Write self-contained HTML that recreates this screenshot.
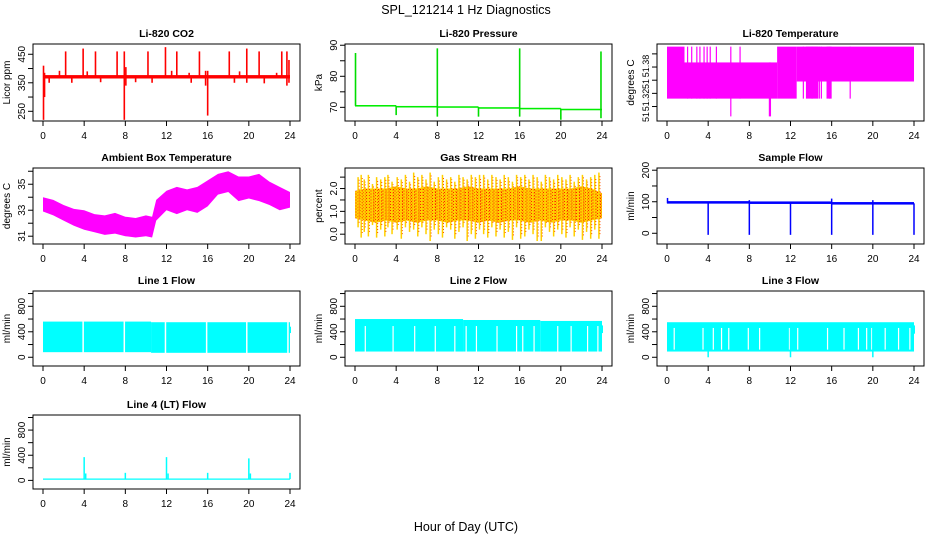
<!DOCTYPE html>
<html><head><meta charset="utf-8"><style>
html,body{margin:0;padding:0;background:#fff;}
svg text{font-family:"Liberation Sans",sans-serif;}
</style></head><body>
<svg id="chart" width="936" height="540" xmlns="http://www.w3.org/2000/svg">
<defs>
<pattern id="rhpat" width="3" height="3" patternUnits="userSpaceOnUse">
<rect width="3" height="3" fill="#ffd000"/><rect x="0" y="0" width="1" height="1" fill="#ff2000"/><rect x="1.5" y="1.5" width="1" height="1" fill="#ff2000"/>
</pattern>
</defs>
<text x="466" y="14" text-anchor="middle" font-size="12.5">SPL_121214  1 Hz Diagnostics</text>
<text x="466" y="531" text-anchor="middle" font-size="12.5">Hour of Day (UTC)</text>
</svg>
<script>
// ---- data ----
const xTicks=[0,4,8,12,16,20,24];
const co2Base=[[0,24,365,377]];
const co2Spikes=[[0.05,220,410],[0.15,300,385],[1.6,365,392],[2.2,365,460],[3.9,365,470],[4.3,365,390],[5.1,365,460],[0.6,350,372],[2.8,350,372],[5.6,352,372],[7.2,365,460],[7.9,220,460],[8.05,340,405],[9.0,352,372],[10.2,365,460],[10.6,350,372],[11.9,365,475],[12.5,365,392],[13.0,365,460],[14.2,365,385],[14.4,350,372],[15.2,365,460],[15.8,340,392],[16.0,235,392],[18.1,365,460],[18.6,350,372],[19.1,365,390],[19.8,350,470],[21.0,365,460],[21.5,348,372],[22.7,365,385],[23.2,365,460],[23.7,340,460],[23.9,350,430]];
const presLevels=[[0,4,70.5],[4,8,70.2],[8,12,70.1],[12,16,69.8],[16,20,69.6],[20,24,69.3]];
const presSpikes=[[0.05,70.5,87.5],[4,67.5,70.5],[8,67,89],[12,67,70.1],[16,67,89],[20,66,69.6],[23.9,66.5,88]];
const tempSegs=[[0,1.7,51.312,51.391],[1.7,10.7,51.312,51.367],[10.7,12.6,51.312,51.391],[12.6,24,51.338,51.391]];
const tempSpikes=[[2.0,51.312,51.391],[2.4,51.312,51.391],[2.9,51.312,51.391],[3.2,51.312,51.391],[3.6,51.312,51.391],[3.9,51.312,51.391],[4.2,51.312,51.391],[4.8,51.312,51.391],[6.2,51.285,51.391],[7.1,51.312,51.391],[9.95,51.285,51.367],[10.05,51.285,51.367],[13.25,51.312,51.391],[14.1,51.312,51.391],[14.8,51.312,51.391],[15.0,51.312,51.391],[15.8,51.312,51.391],[17.8,51.312,51.391]];
const tempFills=[[13.5,14.7,51.312],[15.5,16.0,51.312]];
const ambHours=[0,1,2,3,4,5,6,7,8,9,10,10.6,11,12,13,14,15,16,17,18,19,20,21,22,23,24];
const ambLo=[32.9,32.6,32.2,31.8,31.5,31.3,31.1,31.2,31.0,30.9,31.0,30.9,32.2,33.0,32.7,33.0,32.8,33.3,34.2,34.4,33.7,33.9,33.7,33.4,33.0,33.2];
const ambHi=[34.0,33.8,33.4,33.1,33.0,32.7,32.6,32.8,32.5,32.4,32.6,32.5,33.8,34.5,34.8,34.6,34.8,35.3,35.8,36.0,35.6,35.6,35.8,35.2,34.8,34.4];
const rhHours=[0,1,2,3,4,5,6,7,8,9,10,11,12,13,14,15,16,17,18,19,20,21,22,23,24];
const rhLo=[0.7,0.6,0.5,0.6,0.5,0.6,0.5,0.6,0.6,0.5,0.6,0.6,0.5,0.6,0.5,0.6,0.6,0.5,0.6,0.5,0.6,0.6,0.5,0.6,0.7];
const rhHi=[1.9,2.0,2.0,2.0,2.1,2.0,2.0,2.1,2.0,2.0,2.0,2.1,2.0,2.0,2.0,2.0,2.1,2.0,2.0,2.0,2.0,2.0,2.1,2.0,1.8];
const rhSpikeT=[0.3,0.6,0.9,1.3,1.7,2.1,2.5,2.9,3.2,3.6,4.1,4.5,4.9,5.3,5.7,6.1,6.5,6.9,7.3,7.7,8.1,8.5,8.9,9.3,9.7,10.1,10.5,10.9,11.3,11.7,12.1,12.5,12.9,13.3,13.7,14.1,14.5,14.9,15.3,15.7,16.1,16.5,16.9,17.3,17.7,18.1,18.5,18.9,19.3,19.7,20.1,20.5,20.9,21.3,21.7,22.1,22.5,22.9,23.3,23.7];
const rhSpikeLo=[0.3,-0.15,0.1,-0.1,0.4,-0.15,0.2,-0.1,0.3,0.0,0.2,-0.2,0.3,0.1,0.2,-0.1,0.3,0.0,-0.3,0.2,0.0,-0.15,0.3,0.2,-0.2,0.1,0.3,-0.3,0.0,-0.2,0.2,0.0,-0.15,0.3,-0.1,0.2,-0.15,0.1,-0.25,0.3,-0.2,-0.1,0.2,0.0,-0.3,-0.3,0.3,0.1,-0.1,0.2,0.0,-0.15,0.3,-0.1,0.2,-0.25,0.1,-0.2,0.2,-0.2];
const rhSpikeHi=[2.5,2.6,2.4,2.6,2.2,2.5,2.4,2.5,2.6,2.3,2.5,2.4,2.6,2.3,2.7,2.5,2.6,2.4,2.7,2.3,2.5,2.6,2.4,2.5,2.3,2.6,2.5,2.4,2.6,2.5,2.6,2.6,2.4,2.6,2.5,2.4,2.6,2.5,2.3,2.6,2.5,2.6,2.4,2.6,2.5,2.3,2.6,2.5,2.4,2.6,2.5,2.4,2.6,2.3,2.5,2.6,2.4,2.5,2.6,2.7];
const sampleLevels=[[0,8,94,102],[8,16,93,101],[16,24,91,99]];
const sampleDrops=[[0.05,95,112],[4,-5,100],[8,-5,105],[12,-5,100],[16,-5,110],[20,-5,105],[24,-5,95]];
const l1Levels=[[0,10.5,80,560],[10.5,24,70,550]];
const l1Gaps=[3.9,7.9,11.9,15.9,19.8,23.8];
const l2Levels=[[0,10.5,90,600],[10.5,18,90,585],[18,24,90,570]];
const l2Gaps=[1.0,3.7,5.8,7.8,9.7,10.8,11.8,13.8,15.7,16.3,17.4,19.7,21.0,22.6,23.6];
const l3Levels=[[0,24,90,550]];
const l3Gaps=[0.7,3.5,4.5,5.3,6.0,7.9,9.0,11.9,12.7,15.6,17.2,18.6,19.4,19.9,21.2,22.5,23.6];
const l3Dips=[[4,0,460],[12,0,460],[20,0,460]];
const l4Base=[[0,24,10,30]];
const l4Spikes=[[4,20,370],[4.15,20,110],[8,20,120],[12,20,370],[12.15,20,110],[16,20,120],[20,20,350],[20.15,20,110],[24,20,120]];

// ---- drawing ----
const svg=document.getElementById('chart');
const NS='http://www.w3.org/2000/svg';
const colL=[33,345,657],rowT=[44,168,291,415],rowH=[77,76,75,74],W=267;
function mk(tag,attrs,parent){const e=document.createElementNS(NS,tag);for(const k in attrs)e.setAttribute(k,attrs[k]);(parent||svg).appendChild(e);return e;}
function panel(name,col,row,ymin,ymax,ticks,labels,title,ylab,lfs){
  const g=mk('g',{});
  
  
  const L=colL[col],T=rowT[row],H=rowH[row];
  const x=t=>L+10+t/24*(W-20);
  const y=v=>T+H-(v-ymin)/(ymax-ymin)*H;
  const marks=mk('g',{},g);
  
  
  const frame=mk('rect',{x:L,y:T,width:W,height:H,fill:'none',stroke:'#000','stroke-width':1},g);
  
  
  const tt=mk('text',{x:L+W/2,y:T-7,'text-anchor':'middle','font-size':'10.5','font-weight':'bold'},g);tt.textContent=title;
  
  
  const xa=mk('g',{},g);
  
  
  mk('line',{x1:x(0),x2:x(24),y1:T+H,y2:T+H,stroke:'#000'},xa);
  xTicks.forEach(t=>{mk('line',{x1:x(t),x2:x(t),y1:T+H,y2:T+H+5,stroke:'#000'},xa);
    const tx=mk('text',{x:x(t),y:T+H+18,'text-anchor':'middle','font-size':'10'},xa);tx.textContent=t;});
  const ya=mk('g',{},g);
  
  
  mk('line',{x1:L,x2:L,y1:y(ticks[0]),y2:y(ticks[ticks.length-1]),stroke:'#000'},ya);
  ticks.forEach(v=>mk('line',{x1:L-5,x2:L,y1:y(v),y2:y(v),stroke:'#000'},ya));
  labels.forEach(([v,s])=>{const yy=typeof v==='string'?parseFloat(v):y(v);
    const tx=mk('text',{x:L-8,y:yy,'text-anchor':'middle','font-size':lfs||'10',transform:`rotate(-90 ${L-8} ${yy})`},ya);tx.textContent=s;});
  const yl=mk('text',{x:L-23,y:T+H/2,'text-anchor':'middle','font-size':'10',transform:`rotate(-90 ${L-23} ${T+H/2})`},g);yl.textContent=ylab;
  
  
  return {x,y,g:marks};
}
function vl(p,t,lo,hi,c,w){const e=mk('line',{x1:p.x(t),x2:p.x(t),y1:p.y(lo),y2:p.y(hi),stroke:c,'stroke-width':w||1},p.g);
  
  return e;}
function band(p,t0,t1,lo,hi,c){const e=mk('rect',{x:p.x(t0),y:p.y(hi),width:p.x(t1)-p.x(t0),height:p.y(lo)-p.y(hi),fill:c},p.g);
  
  return e;}
function poly(p,ts,lo,hi,fill){let pts=ts.map((t,i)=>p.x(t)+','+p.y(hi[i]));
  for(let i=ts.length-1;i>=0;i--)pts.push(p.x(ts[i])+','+p.y(lo[i]));
  const e=mk('polygon',{points:pts.join(' '),fill:fill},p.g);
  
  return e;}

// CO2
let p=panel('co2',0,0,216,486,[250,300,350,400,450],[[250,'250'],[350,'350'],[450,'450']],'Li-820 CO2','Licor ppm');
co2Base.forEach(d=>band(p,d[0],d[1],d[2],d[3],'#ff0000'));
co2Spikes.forEach(d=>vl(p,d[0],d[1],d[2],'#ff0000',1.6));
// Pressure
p=panel('pressure',1,0,65.6,90.4,[70,75,80,85,90],[[70,'70'],[80,'80'],[90,'90']],'Li-820 Pressure','kPa');
presLevels.forEach(d=>band(p,d[0],d[1],d[2]-0.25,d[2]+0.25,'#00ee00'));
presSpikes.forEach(d=>vl(p,d[0],d[1],d[2],'#00dd00',1.6));
// Temperature
p=panel('temperature',2,0,51.278,51.395,[51.30,51.32,51.34,51.36,51.38],[['66','51.38'],['84','51'],['100','51.32'],['117','51']],'Li-820 Temperature','degrees C','9');
tempSegs.forEach(d=>band(p,d[0],d[1],d[2],d[3],'#ff00ff'));
tempFills.forEach(d=>band(p,d[0],d[1],d[2],51.391,'#ff00ff'));
tempSpikes.forEach(d=>vl(p,d[0],d[1],d[2],'#ff00ff',1.2));
// Ambient
p=panel('ambient',0,1,30.4,36.25,[31,32,33,34,35,36],[[31,'31'],[33,'33'],[35,'35']],'Ambient Box Temperature','degrees C');
poly(p,ambHours,ambLo,ambHi,'#ff00ff');
// RH
p=panel('rh',1,1,-0.43,2.9,[0,0.5,1,1.5,2,2.5],[[0,'0.0'],[1,'1.0'],[2,'2.0']],'Gas Stream RH','percent');
poly(p,rhHours,rhLo,rhHi,'url(#rhpat)');
rhSpikeT.forEach((t,i)=>{vl(p,t,rhSpikeLo[i],rhSpikeHi[i],'#ffd000',1.5);vl(p,t+0.1,rhSpikeLo[i]+0.2,rhSpikeHi[i]-0.1,'#ff5000',1).setAttribute('stroke-dasharray','1 2');});
// Sample flow
p=panel('sample-flow',2,1,-34,207,[0,50,100,150,200],[[0,'0'],[100,'100'],[200,'200']],'Sample Flow','ml/min');
sampleLevels.forEach(d=>band(p,d[0],d[1],d[2],d[3],'#0000ff'));
sampleDrops.forEach(d=>vl(p,d[0],d[1],d[2],'#0000ff',1.5));
// Line flows
const flowTicks=[0,200,400,600,800,1000],flowLab=[[0,'0'],[400,'400'],[800,'800']];
p=panel('line1-flow',0,2,-137,1040,flowTicks,flowLab,'Line 1 Flow','ml/min');
l1Levels.forEach(d=>band(p,d[0],d[1],d[2],d[3],'#00ffff'));
l1Gaps.forEach(t=>vl(p,t,60,580,'#ffffff',1.5));
vl(p,24,380,480,'#00ffff',2);
p=panel('line2-flow',1,2,-137,1040,flowTicks,flowLab,'Line 2 Flow','ml/min');
l2Levels.forEach(d=>band(p,d[0],d[1],d[2],d[3],'#00ffff'));
l2Gaps.forEach(t=>vl(p,t,80,490,'#ffffff',1.2));
vl(p,24,380,500,'#00ffff',2);
p=panel('line3-flow',2,2,-137,1040,flowTicks,flowLab,'Line 3 Flow','ml/min');
l3Levels.forEach(d=>band(p,d[0],d[1],d[2],d[3],'#00ffff'));
l3Gaps.forEach(t=>vl(p,t,120,460,'#ffffff',1.2));
l3Dips.forEach(d=>vl(p,d[0],d[1],d[2],'#00ffff',1.5));
vl(p,24,370,500,'#00ffff',2);
p=panel('line4-flow',0,3,-137,1040,flowTicks,flowLab,'Line 4 (LT) Flow','ml/min');
l4Base.forEach(d=>band(p,d[0],d[1],d[2],d[3],'#00ffff'));
l4Spikes.forEach(d=>vl(p,d[0],d[1],d[2],'#00ffff',1.5));
</script>
</body></html>
